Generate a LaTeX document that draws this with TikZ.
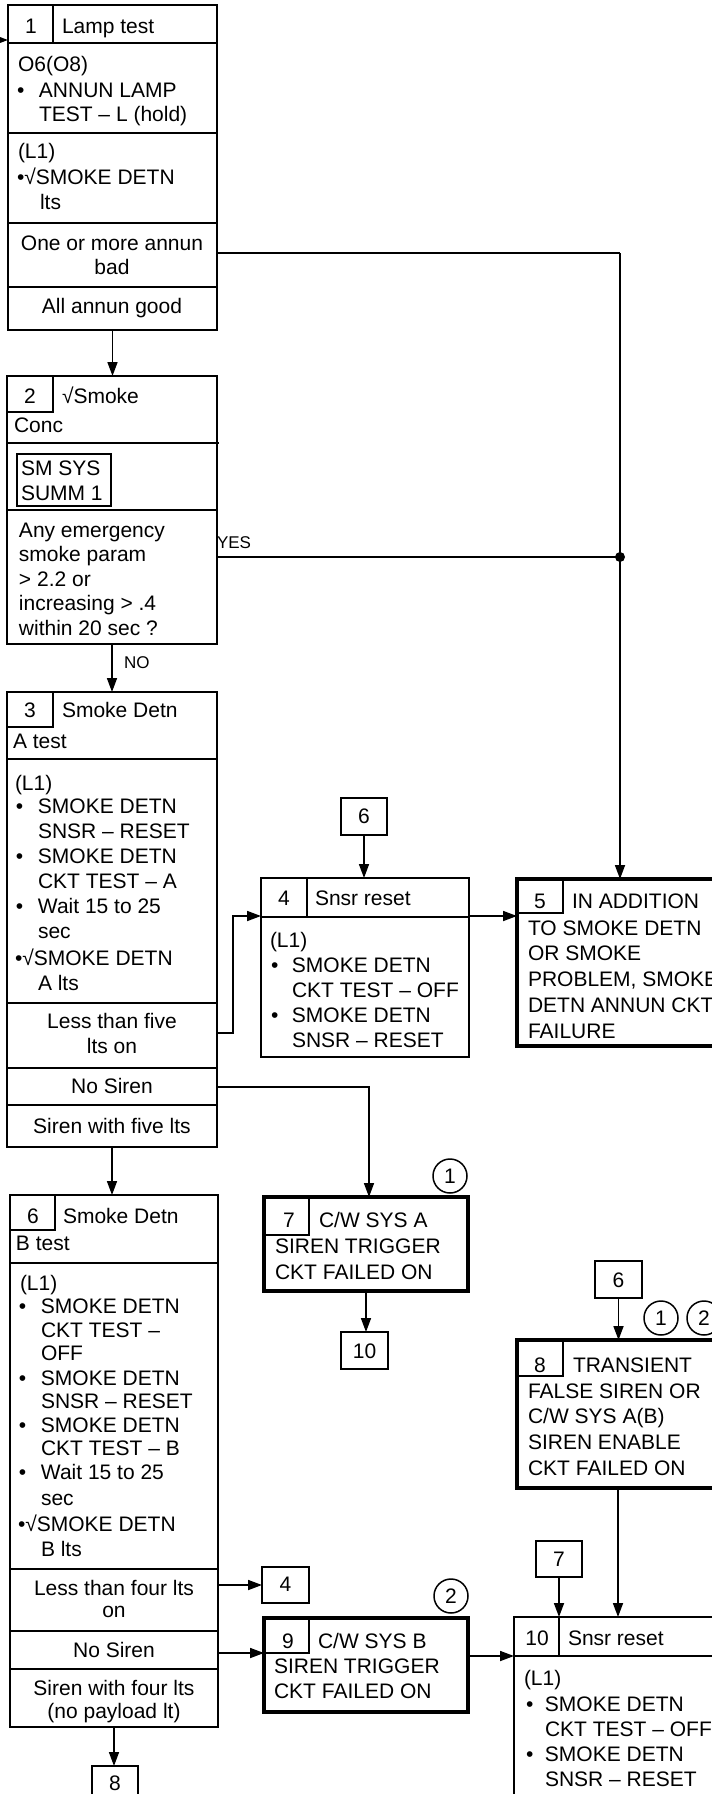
\documentclass[tikz,border=0pt]{standalone}
\usepackage{fontspec}
\setmainfont{Liberation Sans}
\usetikzlibrary{arrows.meta}
\newcommand\mainsz{\fontsize{21}{25}\selectfont}
\newcommand\lblsz{\fontsize{17}{20}\selectfont}
\newcommand\txtl[4]{\node[txt,anchor=base west] (#1) at (#2,#3) {#4};}
\newcommand\txtc[4]{\node[txt,anchor=base] (#1) at (#2,#3) {#4};}
\newcommand\bul[1]{\makebox[#1][l]{•}}
\tikzset{
  box/.style={draw, rectangle, line width=1.8pt, inner sep=0pt, outer sep=0pt, anchor=north west},
  tbox/.style={box, line width=4.5pt},
  refbox/.style={draw, rectangle, line width=1.5pt, inner sep=0pt, outer sep=0pt, anchor=north west},
  sep/.style={line width=1.8pt},
  cell/.style={line width=1.3pt},
  conn/.style={line width=1.7pt},
  arr/.style={conn, -{Triangle[length=14pt,width=10pt]}},
  txt/.style={inner sep=0pt, outer sep=0pt, font=\mainsz},
  lbl/.style={inner sep=0pt, outer sep=0pt, font=\lblsz},
  circ/.style={draw, circle, line width=1.5pt, minimum size=34pt, inner sep=0pt, font=\mainsz},
}
\begin{document}
\begin{tikzpicture}[x=1pt,y=-1pt]
\useasboundingbox (0,0) rectangle (712,1794);
\clip (0,0) rectangle (712,1794);
\fill[white] (0,0) rectangle (712,1794);

% ---------- boxes ----------
\node[box, minimum width=209pt, minimum height=325pt] (b1) at (8,5) {};
\node[box, minimum width=210pt, minimum height=268pt] (b2) at (7,376) {};
\node[box, minimum width=210pt, minimum height=455pt] (b3) at (7,692) {};
\node[box, minimum width=208pt, minimum height=179pt] (b4) at (261,878) {};
\node[tbox, minimum width=213pt, minimum height=167pt] (b5) at (517,879) {};
\node[box, minimum width=208pt, minimum height=532pt] (b6) at (10,1195) {};
\node[tbox, minimum width=204pt, minimum height=94pt] (b7) at (264,1197) {};
\node[tbox, minimum width=213pt, minimum height=148pt] (b8) at (517,1340) {};
\node[tbox, minimum width=204pt, minimum height=94pt] (b9) at (264,1618) {};
\node[box, minimum width=216pt, minimum height=203pt] (b10) at (514,1617) {};
\node[box, minimum width=94pt, minimum height=52pt] (sm) at (17,454) {};

% reference boxes
\node[refbox, minimum width=46pt, minimum height=37pt] (r6a) at (341,798) {};
\node[refbox, minimum width=47pt, minimum height=37pt] (r10) at (341,1332) {};
\node[refbox, minimum width=47pt, minimum height=37pt] (r6b) at (595,1261) {};
\node[refbox, minimum width=47pt, minimum height=36pt] (r4) at (262,1567) {};
\node[refbox, minimum width=46pt, minimum height=36pt] (r7) at (536,1541) {};
\node[refbox, minimum width=46pt, minimum height=37pt] (r8) at (92,1766) {};

% circled notes
\node[circ] (c1a) at (450,1176) {1};
\node[circ] (c2a) at (451,1596) {2};
\node[circ] (c1b) at (661,1318) {1};
\node[circ] (c2b) at (704,1318) {2};

% ---------- internal separators ----------
\draw[cell] (53,5) -- (53,43);
\draw[sep] (8,43) -- (217,43);
\draw[sep] (8,133) -- (217,133);
\draw[sep] (8,223) -- (217,223);
\draw[sep] (8,287) -- (217,287);

\draw[cell] (53,376) |- (7,412);
\draw[sep] (7,443) -- (219,443);
\draw[sep] (7,510) -- (217,510);

\draw[cell] (53,692) |- (7,727);
\draw[sep] (7,759) -- (217,759);
\draw[sep] (7,1003) -- (217,1003);
\draw[sep] (7,1068) -- (217,1068);
\draw[sep] (7,1105) -- (217,1105);

\draw[cell] (307,878) -- (307,917);
\draw[sep] (261,917) -- (469,917);

\draw[cell] (563,879) |- (517,913);

\draw[cell] (55,1195) |- (10,1230);
\draw[sep] (10,1263) -- (218,1263);
\draw[sep] (10,1569) -- (218,1569);
\draw[sep] (10,1631) -- (218,1631);
\draw[sep] (10,1669) -- (218,1669);

\draw[cell] (309,1197) |- (264,1235);
\draw[cell] (563,1340) |- (517,1376);
\draw[cell] (309,1618) |- (264,1653);

\draw[cell] (559,1617) -- (559,1656);
\draw[sep] (514,1656) -- (730,1656);

% ---------- texts ----------
% box 1
\txtc{n1}{31}{33}{1}
\txtl{t1a}{62}{33}{Lamp test}
\txtl{t1b}{18}{71}{O6(O8)}
\txtl{t1c}{17}{97}{\bul{22pt}ANNUN LAMP}
\txtl{t1d}{39}{121}{TEST – L (hold)}
\txtl{t1e}{18}{158}{(L1)}
\txtl{t1f}{17}{184}{•√SMOKE DETN}
\txtl{t1g}{40}{209}{lts}
\txtc{t1h}{112}{250}{One or more annun}
\txtc{t1i}{112}{274}{bad}
\txtc{t1j}{112}{313}{All annun good}

% box 2
\txtc{n2}{30}{403}{2}
\txtl{t2a}{62}{403}{√Smoke}
\txtl{t2b}{14}{432}{Conc}
\txtl{t2c}{21}{475}{SM SYS}
\txtl{t2d}{21}{500}{SUMM 1}
\txtl{t2e}{19}{537}{Any emergency}
\txtl{t2f}{19}{561}{smoke param}
\txtl{t2g}{19}{586}{> 2.2 or}
\txtl{t2h}{19}{610}{increasing > .4}
\txtl{t2i}{19}{635}{within 20 sec ?}

% box 3
\txtc{n3}{30}{717}{3}
\txtl{t3a}{62}{717}{Smoke Detn}
\txtl{t3b}{13}{748}{A test}
\txtl{t3c}{15}{790}{(L1)}
\txtl{t3d}{16}{813}{\bul{22pt}SMOKE DETN}
\txtl{t3e}{38}{838}{SNSR – RESET}
\txtl{t3f}{16}{863}{\bul{22pt}SMOKE DETN}
\txtl{t3g}{38}{888}{CKT TEST – A}
\txtl{t3h}{16}{913}{\bul{22pt}Wait 15 to 25}
\txtl{t3i}{38}{938}{sec}
\txtl{t3j}{15}{965}{•√SMOKE DETN}
\txtl{t3k}{38}{990}{A lts}
\txtc{t3l}{112}{1028}{Less than five}
\txtc{t3m}{112}{1053}{lts on}
\txtc{t3n}{112}{1093}{No Siren}
\txtc{t3o}{112}{1133}{Siren with five lts}

% box 4
\txtc{n4}{284}{905}{4}
\txtl{t4a}{315}{905}{Snsr reset}
\txtl{t4b}{270}{947}{(L1)}
\txtl{t4c}{271}{972}{\bul{21pt}SMOKE DETN}
\txtl{t4d}{292}{997}{CKT TEST – OFF}
\txtl{t4e}{271}{1022}{\bul{21pt}SMOKE DETN}
\txtl{t4f}{292}{1047}{SNSR – RESET}

% box 5
\txtc{n5}{540}{908}{5}
\txtl{t5a}{572}{908}{IN ADDITION}
\txtl{t5b}{528}{935}{TO SMOKE DETN}
\txtl{t5c}{528}{960}{OR SMOKE}
\txtl{t5d}{528}{986}{PROBLEM, SMOKE}
\txtl{t5e}{528}{1012}{DETN ANNUN CKT}
\txtl{t5f}{528}{1038}{FAILURE}

% box 6
\txtc{n6}{33}{1223}{6}
\txtl{t6a}{63}{1223}{Smoke Detn}
\txtl{t6b}{16}{1250}{B test}
\txtl{t6c}{20}{1290}{(L1)}
\txtl{t6d}{19}{1313}{\bul{22pt}SMOKE DETN}
\txtl{t6e}{41}{1337}{CKT TEST –}
\txtl{t6f}{41}{1360}{OFF}
\txtl{t6g}{19}{1385}{\bul{22pt}SMOKE DETN}
\txtl{t6h}{41}{1408}{SNSR – RESET}
\txtl{t6i}{19}{1432}{\bul{22pt}SMOKE DETN}
\txtl{t6j}{41}{1455}{CKT TEST – B}
\txtl{t6k}{19}{1479}{\bul{22pt}Wait 15 to 25}
\txtl{t6l}{41}{1505}{sec}
\txtl{t6m}{18}{1531}{•√SMOKE DETN}
\txtl{t6n}{41}{1556}{B lts}
\txtc{t6o}{114}{1595}{Less than four lts}
\txtc{t6p}{114}{1617}{on}
\txtc{t6q}{114}{1657}{No Siren}
\txtc{t6r}{114}{1695}{Siren with four lts}
\txtc{t6s}{114}{1718}{(no payload lt)}

% box 7
\txtc{n7}{289}{1227}{7}
\txtl{t7a}{319}{1227}{C/W SYS A}
\txtl{t7b}{275}{1253}{SIREN TRIGGER}
\txtl{t7c}{275}{1279}{CKT FAILED ON}

% box 8
\txtc{n8}{540}{1372}{8}
\txtl{t8a}{573}{1372}{TRANSIENT}
\txtl{t8b}{528}{1398}{FALSE SIREN OR}
\txtl{t8c}{528}{1423}{C/W SYS A(B)}
\txtl{t8d}{528}{1449}{SIREN ENABLE}
\txtl{t8e}{528}{1475}{CKT FAILED ON}

% box 9
\txtc{n9}{288}{1648}{9}
\txtl{t9a}{318}{1648}{C/W SYS B}
\txtl{t9b}{274}{1673}{SIREN TRIGGER}
\txtl{t9c}{274}{1698}{CKT FAILED ON}

% box 10
\txtc{n10}{537}{1645}{10}
\txtl{t10a}{568}{1645}{Snsr reset}
\txtl{t10b}{524}{1685}{(L1)}
\txtl{t10c}{526}{1711}{\bul{19pt}SMOKE DETN}
\txtl{t10d}{545}{1736}{CKT TEST – OFF}
\txtl{t10e}{526}{1761}{\bul{19pt}SMOKE DETN}
\txtl{t10f}{545}{1786}{SNSR – RESET}

% reference box labels
\txtc{tr6a}{364}{823}{6}
\txtc{tr10}{364.5}{1358}{10}
\txtc{tr6b}{618.5}{1287}{6}
\txtc{tr4}{285.5}{1591}{4}
\txtc{tr7}{559}{1566}{7}
\txtc{tr8}{115}{1790}{8}

% ---------- connectors ----------
\coordinate (in1) at (-20,40);
\draw[arr] (in1) -- (in1 -| b1.west);
\draw[arr] (b1.south) -- (b1.south |- b2.north);

\coordinate (j1) at (620,253);
\coordinate (jd) at (620,557);
\draw[conn] (b1.east |- j1) -- (j1);
\draw[arr] (j1) -- (j1 |- b5.north);
\draw[conn] (b2.east |- jd) -- (jd);
\fill (jd) circle (5pt);
\node[lbl, anchor=base west] (yes) at (217,548) {YES};

\draw[arr] (b2.south) -- (b2.south |- b3.north);
\node[lbl, anchor=base west] (no) at (124,668) {NO};

\coordinate (k1) at (233,1033);
\coordinate (k2) at (233,916);
\draw[arr] (b3.east |- k1) -- (k1) -- (k2) -- (k2 -| b4.west);
\coordinate (k3) at (369,1087);
\draw[arr] (b3.east |- k3) -- (k3) -- (k3 |- b7.north);
\draw[arr] (b3.south) -- (b3.south |- b6.north);

\draw[arr] (r6a.south) -- (r6a.south |- b4.north);
\draw[arr] (b4.east |- k2) -- (k2 -| b5.west);

\draw[arr] (b7.south) -- (b7.south |- r10.north);

\draw[arr] (r6b.south) -- (r6b.south |- b8.north);
\coordinate (k4) at (618,1488);
\draw[arr] (k4) -- (k4 |- b10.north);
\draw[arr] (r7.south) -- (r7.south |- b10.north);

\draw[arr] (b6.east |- r4.west) -- (r4.west);
\coordinate (k6) at (0,1653);
\draw[arr] (b6.east |- k6) -- (b9.west |- k6);
\coordinate (k7) at (0,1656);
\draw[arr] (b9.east |- k7) -- (b10.west |- k7);
\draw[arr] (b6.south) -- (b6.south |- r8.north);
\end{tikzpicture}
\end{document}
